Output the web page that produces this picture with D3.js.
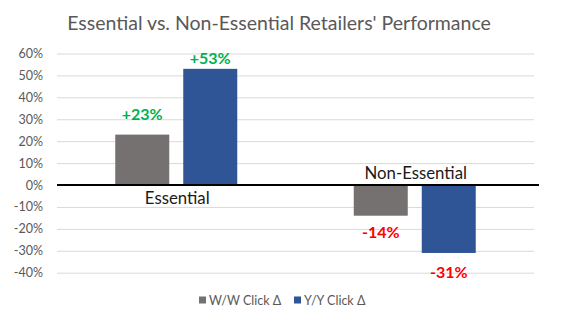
<!DOCTYPE html>
<html>
<head>
<meta charset="utf-8">
<script src="https://cdn.jsdelivr.net/npm/d3@7"></script>
<style>
  html, body { margin: 0; padding: 0; background: #fff; }
  svg { display: block; font-family: Lato, "Open Sans", sans-serif; }
</style>
</head>
<body>
<svg id="chart" width="562" height="329"></svg>
<script>
// Retailer categories and the two click-change series (percent)
const categories = ["Essential", "Non-Essential"];
const seriesNames = ["W/W Click \u0394", "Y/Y Click \u0394"];
const wowValues = [23, -14];
const yoyValues = [53, -31];
const tickValues = [60, 50, 40, 30, 20, 10, 0, -10, -20, -30, -40];

const colors = ["#767171", "#2F5597"];
const rows = categories.map((c, i) => ({ category: c, values: [wowValues[i], yoyValues[i]] }));

const svg = d3.select("#chart");

const x0 = d3.scaleBand().domain(categories).range([57, 534]).padding(0);
const x1 = d3.scaleBand().domain([0, 1]).range([-61, 61]).paddingInner(0.206).paddingOuter(0);
const y = d3.scaleLinear().domain([-40, 60]).range([272.7, 53.5]);

// Title
svg.append("text")
  .attr("x", 279).attr("y", 22)
  .attr("text-anchor", "middle").attr("dominant-baseline", "central")
  .attr("fill", "#595959").style("font-size", "19.5px")
  .text("Essential vs. Non-Essential Retailers' Performance");

// Horizontal gridlines with percent labels
const yAxis = d3.axisLeft(y).tickValues(tickValues)
  .tickSize(-(534 - 57)).tickPadding(14)
  .tickFormat(d => d + "%");
const gAxis = svg.append("g").attr("transform", "translate(57,0)").call(yAxis);
gAxis.select(".domain").remove();
gAxis.selectAll(".tick line").attr("stroke", "#d9d9d9").attr("stroke-width", 1);
gAxis.selectAll(".tick text").attr("fill", "#595959").style("font-size", "12.5px")
  .style("font-family", "Lato, 'Open Sans', sans-serif");

// Bars
const groups = svg.append("g").selectAll("g").data(rows).join("g")
  .attr("transform", d => `translate(${x0(d.category) + x0.bandwidth() / 2},0)`);

groups.selectAll("rect").data(d => d.values.map((v, k) => ({ v, k }))).join("rect")
  .attr("x", d => x1(d.k))
  .attr("width", x1.bandwidth())
  .attr("y", d => y(Math.max(0, d.v)))
  .attr("height", d => Math.abs(y(d.v) - y(0)))
  .attr("fill", d => colors[d.k]);

// Zero baseline
svg.append("line")
  .attr("x1", 57).attr("x2", 539)
  .attr("y1", y(0)).attr("y2", y(0))
  .attr("stroke", "#000").attr("stroke-width", 2);

// Value labels (above positive bars, below negative ones)
const labelGap = [[21, 11], [16, 19]];
groups.each(function (d, i) {
  d3.select(this).selectAll("text.val").data(d.values.map((v, k) => ({ v, k }))).join("text")
    .attr("class", "val")
    .attr("x", e => x1(e.k) + x1.bandwidth() / 2)
    .attr("y", e => e.v >= 0 ? y(e.v) - labelGap[i][e.k] : y(e.v) + labelGap[i][e.k])
    .attr("text-anchor", "middle").attr("dominant-baseline", "central")
    .attr("fill", e => e.v >= 0 ? "#00B050" : "#FF0000")
    .style("font-size", "16px").style("font-weight", "bold")
    .text(e => (e.v > 0 ? "+" : "") + e.v + "%");
});

// Category labels sit on the side of the axis opposite the bars
groups.append("text")
  .attr("x", 1)
  .attr("y", d => d.values[0] >= 0 ? y(0) + 12.5 : y(0) - 12.5)
  .attr("text-anchor", "middle").attr("dominant-baseline", "central")
  .attr("fill", "#1a1a1a").style("font-size", "16.8px")
  .text(d => d.category);

// Legend
const legendItems = [{ x: 199, tx: 209 }, { x: 294, tx: 304 }];
const legend = svg.append("g").selectAll("g").data(seriesNames).join("g");
legend.append("rect")
  .attr("x", (d, i) => legendItems[i].x).attr("y", 296.5)
  .attr("width", 7).attr("height", 7)
  .attr("fill", (d, i) => colors[i]);
legend.append("text")
  .attr("x", (d, i) => legendItems[i].tx).attr("y", 300)
  .attr("dominant-baseline", "central")
  .attr("fill", "#595959").style("font-size", "12.5px")
  .text(d => d);
</script>
</body>
</html>
